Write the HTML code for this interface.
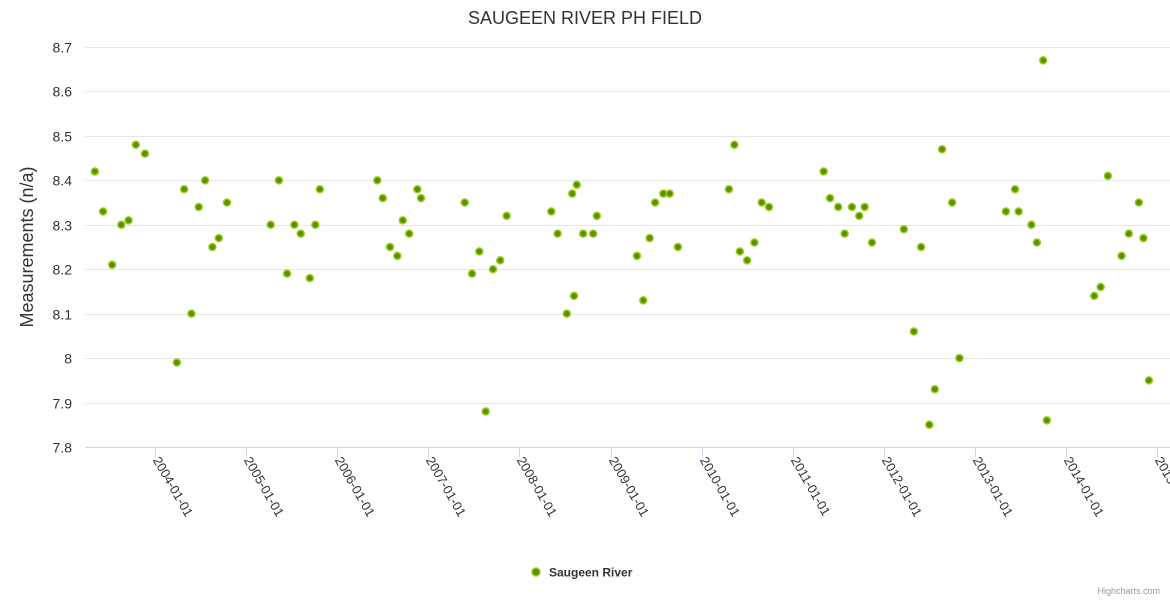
<!DOCTYPE html>
<html><head><meta charset="utf-8"><style>
html,body{margin:0;padding:0;background:#fff;}
svg{display:block;font-family:"Liberation Sans",sans-serif;}
</style></head><body>
<svg id="chart" width="1170" height="600">
<text x="585" y="24" text-anchor="middle" font-size="18" fill="#333">SAUGEEN RIVER PH FIELD</text>
<g id="grid"></g>
<g id="yaxis"></g>
<g id="xaxis"></g>
<text transform="translate(33,247) rotate(-90)" text-anchor="middle" font-size="18" fill="#333">Measurements (n/a)</text>
<g id="points"></g>
<g>
<circle cx="536" cy="572" r="4" fill="#5b8f00" stroke="#9acd1a" stroke-width="1.5"/>
<text x="549" y="576.5" font-size="12" font-weight="bold" fill="#333">Saugeen River</text>
</g>
<text x="1160" y="594" text-anchor="end" font-size="9" fill="#999">Highcharts.com</text>
</svg>
<script>
const dates=[2003.34,2003.43,2003.53,2003.63,2003.71,2003.79,2003.89,2004.24,2004.32,2004.40,2004.48,2004.55,2004.63,2004.70,2004.79,
2005.27,2005.36,2005.45,2005.53,2005.60,2005.70,2005.76,2005.81,
2006.44,2006.50,2006.58,2006.66,2006.72,2006.79,2006.88,2006.92,
2007.40,2007.48,2007.56,2007.63,2007.71,2007.79,2007.86,
2008.35,2008.42,2008.52,2008.58,2008.60,2008.63,2008.70,2008.81,2008.85,
2009.29,2009.36,2009.43,2009.49,2009.58,2009.65,2009.74,
2010.30,2010.36,2010.42,2010.50,2010.58,2010.66,2010.74,
2011.34,2011.41,2011.50,2011.57,2011.65,2011.73,2011.79,2011.87,
2012.22,2012.33,2012.41,2012.50,2012.56,2012.64,2012.75,2012.83,
2013.34,2013.44,2013.48,2013.62,2013.68,2013.75,2013.79,
2014.31,2014.38,2014.46,2014.61,2014.69,2014.80,2014.85,2014.91];
const values=[8.42,8.33,8.21,8.30,8.31,8.48,8.46,7.99,8.38,8.10,8.34,8.40,8.25,8.27,8.35,
8.30,8.40,8.19,8.30,8.28,8.18,8.30,8.38,
8.40,8.36,8.25,8.23,8.31,8.28,8.38,8.36,
8.35,8.19,8.24,7.88,8.20,8.22,8.32,
8.33,8.28,8.10,8.37,8.14,8.39,8.28,8.28,8.32,
8.23,8.13,8.27,8.35,8.37,8.37,8.25,
8.38,8.48,8.24,8.22,8.26,8.35,8.34,
8.42,8.36,8.34,8.28,8.34,8.32,8.34,8.26,
8.29,8.06,8.25,7.85,7.93,8.47,8.35,8.00,
8.33,8.38,8.33,8.30,8.26,8.67,7.86,
8.14,8.16,8.41,8.23,8.28,8.35,8.27,7.95];
const yTicks=[7.8,7.9,8,8.1,8.2,8.3,8.4,8.5,8.6,8.7];
const xTickYears=[2004,2005,2006,2007,2008,2009,2010,2011,2012,2013,2014,2015];
const xTickLabels=["2004-01-01","2005-01-01","2006-01-01","2007-01-01","2008-01-01","2009-01-01","2010-01-01","2011-01-01","2012-01-01","2013-01-01","2014-01-01","2015-01-01"];

const NS="http://www.w3.org/2000/svg";
const plotL=85,plotR=1170,plotT=47,plotB=447;
const yMin=7.8,yMax=8.7;
function yScale(v){return plotB-(v-yMin)/(yMax-yMin)*(plotB-plotT);}
function xScale(y){return 155+(y-2004)*91.1;}
function mk(tag,attrs,parent){const e=document.createElementNS(NS,tag);for(const k in attrs)e.setAttribute(k,attrs[k]);parent.appendChild(e);return e;}
const grid=document.getElementById('grid'),ya=document.getElementById('yaxis'),xa=document.getElementById('xaxis'),pts=document.getElementById('points');
yTicks.forEach(t=>{
  const y=Math.round(yScale(t))+0.5;
  const l=mk('line',{x1:plotL,x2:plotR,y1:y,y2:y,stroke:t===yMin?'#ccd6eb':'#e6e6e6','stroke-width':1},grid);
  
  
  const tx=mk('text',{x:72,y:y+5,'text-anchor':'end','font-size':14,fill:'#333'},ya);
  
  
  tx.textContent=String(t);
});
xTickYears.forEach((yr,i)=>{
  const x=Math.round(xScale(yr))+0.5;
  const tk=mk('line',{x1:x,x2:x,y1:plotB,y2:plotB+10,stroke:'#ccd6eb'},xa);
  
  
  const tx=mk('text',{x:0,y:0,'font-size':13,fill:'#333',transform:`translate(${x-3},${plotB+13}) rotate(60)`},xa);
  
  
  tx.textContent=xTickLabels[i];
});
dates.forEach((d,i)=>{
  const c=mk('circle',{cx:xScale(d),cy:yScale(values[i]),r:3.5,fill:'#5b8f00',stroke:'#9acd1a','stroke-width':1.5},pts);
  
  
});
</script>
</body></html>
